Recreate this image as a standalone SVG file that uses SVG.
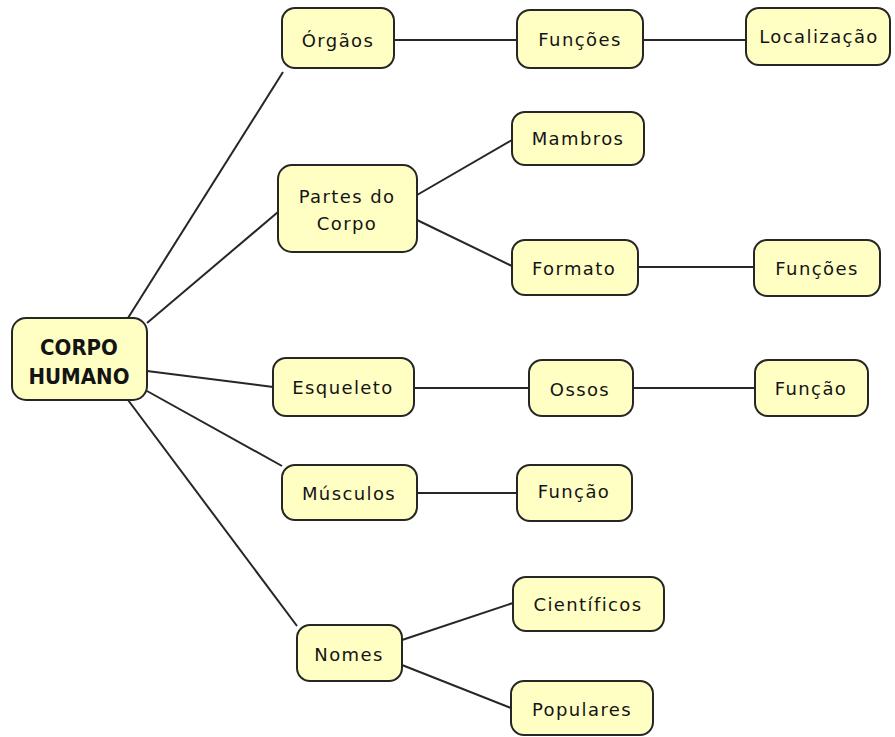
<svg xmlns="http://www.w3.org/2000/svg" width="895" height="737" viewBox="0 0 895 737">
  <style>
    .node rect { fill: #FFFFC4; stroke: #262626; stroke-width: 2; }
    .node text { font-family: "DejaVu Sans", "Liberation Sans", sans-serif; font-size: 18px; letter-spacing: 1.4px; fill: #141414; text-anchor: middle; }
    .node text.root { font-family: "DejaVu Sans Condensed", "DejaVu Sans", sans-serif; font-weight: bold; font-size: 22px; letter-spacing: 0; }
    .links line { stroke: #262626; stroke-width: 2; }
  </style>
  <rect width="895" height="737" fill="#ffffff"/>

  <g class="links">
    <line x1="128" y1="318" x2="283" y2="72"/>
    <line x1="147" y1="323" x2="278" y2="212"/>
    <line x1="147" y1="371" x2="273" y2="387"/>
    <line x1="147" y1="391" x2="282" y2="466"/>
    <line x1="128" y1="400" x2="297" y2="626"/>
    <line x1="394" y1="40" x2="517" y2="40"/>
    <line x1="643" y1="40" x2="746" y2="40"/>
    <line x1="417" y1="195" x2="512" y2="140"/>
    <line x1="417" y1="220" x2="512" y2="266"/>
    <line x1="638" y1="267" x2="754" y2="267"/>
    <line x1="414" y1="388" x2="529" y2="388"/>
    <line x1="633" y1="388" x2="755" y2="388"/>
    <line x1="417" y1="493" x2="517" y2="493"/>
    <line x1="402" y1="640" x2="513" y2="603"/>
    <line x1="402" y1="665" x2="511" y2="708"/>
  </g>

  <g id="corpo-humano" class="node">
    <rect x="12" y="318" width="135" height="82" rx="14"/>
    <text class="root" x="79" y="355">CORPO</text>
    <text class="root" x="79" y="384">HUMANO</text>
  </g>
  <g id="orgaos" class="node">
    <rect x="282" y="8" width="112" height="60" rx="13"/>
    <text x="338" y="47">Órgãos</text>
  </g>
  <g id="funcoes-orgaos" class="node">
    <rect x="517" y="10" width="126" height="58" rx="13"/>
    <text x="580" y="46">Funções</text>
  </g>
  <g id="localizacao" class="node">
    <rect x="746" y="8" width="144" height="57" rx="13"/>
    <text x="819" y="43">Localização</text>
  </g>
  <g id="partes-do-corpo" class="node">
    <rect x="278" y="165" width="139" height="87" rx="14"/>
    <text x="347" y="203">Partes do</text>
    <text x="347" y="230">Corpo</text>
  </g>
  <g id="mambros" class="node">
    <rect x="512" y="112" width="132" height="53" rx="13"/>
    <text x="578" y="145">Mambros</text>
  </g>
  <g id="formato" class="node">
    <rect x="512" y="240" width="126" height="55" rx="13"/>
    <text x="574" y="275">Formato</text>
  </g>
  <g id="funcoes-formato" class="node">
    <rect x="754" y="240" width="126" height="56" rx="13"/>
    <text x="817" y="275">Funções</text>
  </g>
  <g id="esqueleto" class="node">
    <rect x="273" y="358" width="141" height="58" rx="13"/>
    <text x="343" y="394">Esqueleto</text>
  </g>
  <g id="ossos" class="node">
    <rect x="529" y="360" width="104" height="56" rx="13"/>
    <text x="580" y="396">Ossos</text>
  </g>
  <g id="funcao-ossos" class="node">
    <rect x="755" y="360" width="113" height="56" rx="13"/>
    <text x="811" y="395">Função</text>
  </g>
  <g id="musculos" class="node">
    <rect x="282" y="465" width="135" height="55" rx="13"/>
    <text x="349" y="500">Músculos</text>
  </g>
  <g id="funcao-musculos" class="node">
    <rect x="517" y="465" width="115" height="56" rx="13"/>
    <text x="574" y="498">Função</text>
  </g>
  <g id="nomes" class="node">
    <rect x="297" y="625" width="105" height="56" rx="13"/>
    <text x="349" y="661">Nomes</text>
  </g>
  <g id="cientificos" class="node">
    <rect x="513" y="577" width="151" height="54" rx="13"/>
    <text x="588" y="611">Científicos</text>
  </g>
  <g id="populares" class="node">
    <rect x="511" y="681" width="142" height="54" rx="13"/>
    <text x="582" y="716">Populares</text>
  </g>
</svg>
